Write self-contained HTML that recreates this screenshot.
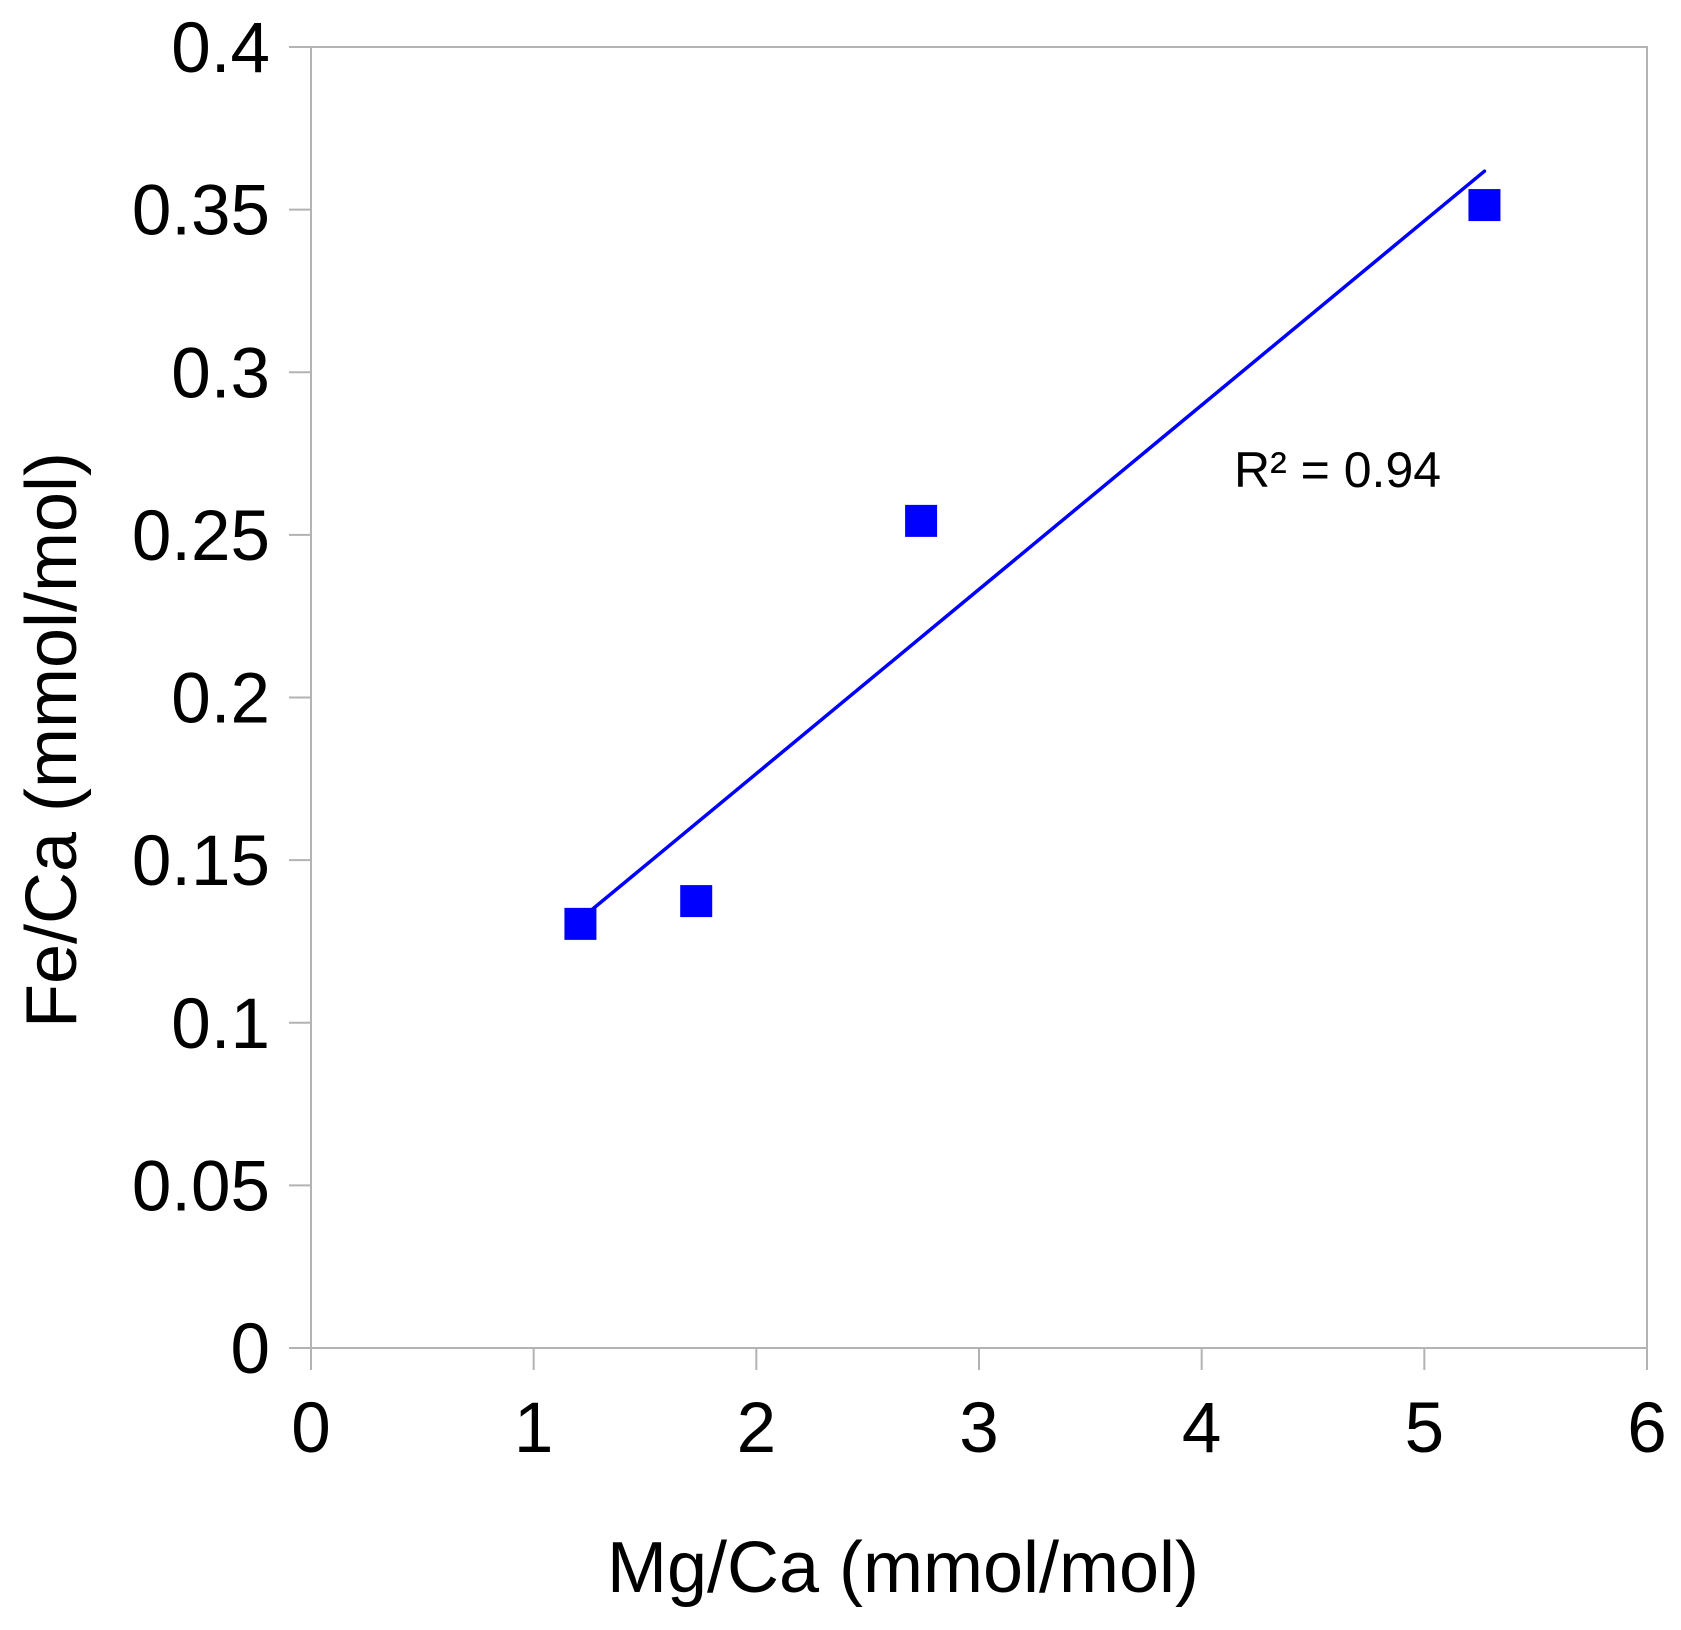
<!DOCTYPE html>
<html><head><meta charset="utf-8"><style>
html,body{margin:0;padding:0;background:#fff;}
svg text{font-family:"Liberation Sans",sans-serif;fill:#000;}
</style></head><body>
<svg id="chart" width="1681" height="1625" xmlns="http://www.w3.org/2000/svg">
<g id="axes"></g><g id="marks"></g>
<text x="903" y="1592" font-size="72" text-anchor="middle">Mg/Ca (mmol/mol)</text>
<text transform="translate(76,740) rotate(-90)" font-size="72" text-anchor="middle">Fe/Ca (mmol/mol)</text>
<text x="1234" y="487" font-size="50">R² = 0.94</text>
</svg>
<script>
const xValues = [1.21, 1.73, 2.74, 5.27];
const yValues = [0.1304, 0.1374, 0.2543, 0.3514];
const xTicks = [0,1,2,3,4,5,6];
const yTicks = [0,0.05,0.1,0.15,0.2,0.25,0.3,0.35,0.4];
const yTickLabels = ["0","0.05","0.1","0.15","0.2","0.25","0.3","0.35","0.4"];

const L=311,R=1647,T=47,B=1348;
const sx=v=>L+(v-0)/6*(R-L);
const sy=v=>B-(v-0)/0.4*(B-T);
const NS="http://www.w3.org/2000/svg";
const axes=document.getElementById('axes'), marks=document.getElementById('marks');
function mk(tag,attrs,parent){const e=document.createElementNS(NS,tag);for(const k in attrs)e.setAttribute(k,attrs[k]);parent.appendChild(e);return e;}
const frame=mk('rect',{x:L,y:T,width:R-L,height:B-T,fill:'none',stroke:'#b3b3b3','stroke-width':2},axes);


yTicks.forEach((v,i)=>{
  const t=mk('line',{x1:L-22,x2:L,y1:sy(v),y2:sy(v),stroke:'#b3b3b3','stroke-width':2},axes);
  
  
  const tx=mk('text',{x:270,y:sy(v)+25,'font-size':71,'text-anchor':'end'},axes);
  tx.textContent=yTickLabels[i];
  
  
});
xTicks.forEach(v=>{
  const t=mk('line',{x1:sx(v),x2:sx(v),y1:B,y2:B+22,stroke:'#b3b3b3','stroke-width':2},axes);
  
  
  const tx=mk('text',{x:sx(v),y:1452,'font-size':71,'text-anchor':'middle'},axes);
  tx.textContent=String(v);
  
  
});
const n=xValues.length;
const mx=xValues.reduce((a,b)=>a+b,0)/n, my=yValues.reduce((a,b)=>a+b,0)/n;
let sxy=0,sxx=0;for(let i=0;i<n;i++){sxy+=(xValues[i]-mx)*(yValues[i]-my);sxx+=(xValues[i]-mx)**2;}
const slope=sxy/sxx, icp=my-slope*mx;
const x0=Math.min(...xValues), x1=Math.max(...xValues);
const tl=mk('line',{x1:sx(x0),y1:sy(icp+slope*x0),x2:sx(x1),y2:sy(icp+slope*x1),stroke:'#0000ff','stroke-width':3.5,'stroke-linecap':'round'},marks);


xValues.forEach((v,i)=>{
  const p=mk('rect',{x:sx(v)-16,y:sy(yValues[i])-16,width:32,height:32,fill:'#0000ff'},marks);
  
  
});
</script>
</body></html>
